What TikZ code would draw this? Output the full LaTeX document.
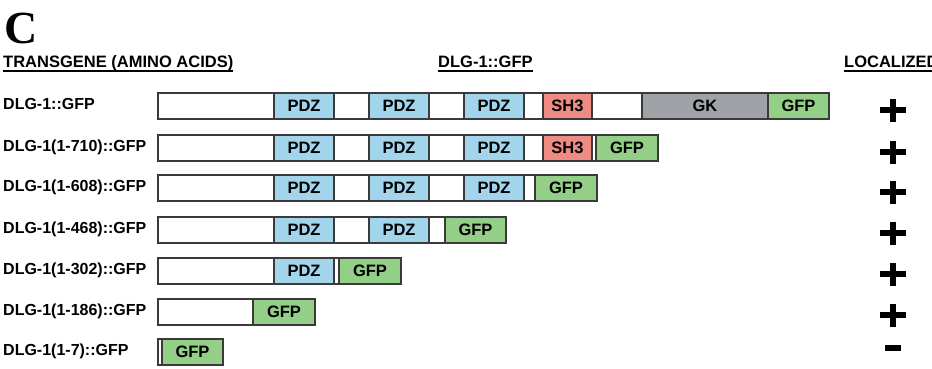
\documentclass[tikz,border=0pt]{standalone}
\usepackage{fontspec}
\setmainfont{Liberation Sans}
\newfontfamily\panelfont{Liberation Serif}
\definecolor{pdzblue}{HTML}{A2D5EC}
\definecolor{shpink}{HTML}{EE8B82}
\definecolor{gkgray}{HTML}{9FA2A7}
\definecolor{gfpgreen}{HTML}{93CF86}
\definecolor{edge}{HTML}{3A3A3A}
\tikzset{
  seg/.style={draw=edge, line width=1.4pt, minimum height=26pt, inner sep=0pt,
    font=\fontsize{16.5}{19}\bfseries\selectfont, text=black},
  blank/.style={fill=white},
  pdz/.style={fill=pdzblue},
  sh/.style={fill=shpink},
  gk/.style={fill=gkgray},
  gfp/.style={fill=gfpgreen},
  rowlabel/.style={anchor=base west, inner sep=0pt, font=\fontsize{16}{19}\bfseries\selectfont},
  header/.style={anchor=base west, inner sep=0pt, font=\fontsize{16.5}{19}\bfseries\selectfont},
  uline/.style={line width=2pt, black},
  scoremark/.style={line width=6.5pt, black},
}
% \seg{name}{style}{left}{right}{row centre}{text}
\newcommand\seg[6]{\node[seg,#2,minimum width={#4-#3}] (#1) at ({(#3+#4)/2},#5) {#6};}
% plus sign centred at (x,y)
\newcommand\plusmark[2]{\draw[scoremark] (#1-13,#2) -- (#1+13,#2); \draw[scoremark] (#1,#2-11.5) -- (#1,#2+11.5);}
\begin{document}
\begin{tikzpicture}[x=1pt,y=-1pt]
\useasboundingbox (0,0) rectangle (932,368);

% panel letter and column headers
\node[anchor=base west, inner sep=0pt, font=\fontsize{46}{50}\bfseries\panelfont] (panel) at (4,43) {C};
\node[header] (h1) at (3,67) {TRANSGENE (AMINO ACIDS)};
\node[header] (h2) at (438,67) {DLG-1::GFP};
\node[header] (h3) at (844,67) {LOCALIZED};
\foreach \h in {h1,h2,h3}
  \draw[uline] ([yshift=-4pt]\h.base west) -- ([yshift=-4pt]\h.base east);

% row labels
\node[rowlabel] (l1) at (3,109) {DLG-1::GFP};
\node[rowlabel] (l2) at (3,151) {DLG-1(1-710)::GFP};
\node[rowlabel] (l3) at (3,191) {DLG-1(1-608)::GFP};
\node[rowlabel] (l4) at (3,233) {DLG-1(1-468)::GFP};
\node[rowlabel] (l5) at (3,274) {DLG-1(1-302)::GFP};
\node[rowlabel] (l6) at (3,315) {DLG-1(1-186)::GFP};
\node[rowlabel] (l7) at (3,355) {DLG-1(1-7)::GFP};

% full length
\seg{r1a}{blank}{158}{274}{106}{}
\seg{r1b}{pdz}{274}{334}{106}{PDZ}
\seg{r1c}{blank}{334}{369}{106}{}
\seg{r1d}{pdz}{369}{429}{106}{PDZ}
\seg{r1e}{blank}{429}{464}{106}{}
\seg{r1f}{pdz}{464}{524}{106}{PDZ}
\seg{r1g}{blank}{524}{543}{106}{}
\seg{r1h}{sh}{543}{592}{106}{SH3}
\seg{r1i}{blank}{592}{642}{106}{}
\seg{r1j}{gk}{642}{768}{106}{GK}
\seg{r1k}{gfp}{768}{829}{106}{GFP}

% 1-710
\seg{r2a}{blank}{158}{274}{148}{}
\seg{r2b}{pdz}{274}{334}{148}{PDZ}
\seg{r2c}{blank}{334}{369}{148}{}
\seg{r2d}{pdz}{369}{429}{148}{PDZ}
\seg{r2e}{blank}{429}{464}{148}{}
\seg{r2f}{pdz}{464}{524}{148}{PDZ}
\seg{r2g}{blank}{524}{543}{148}{}
\seg{r2h}{sh}{543}{592}{148}{SH3}
\seg{r2i}{blank}{592}{596}{148}{}
\seg{r2j}{gfp}{596}{658}{148}{GFP}

% 1-608
\seg{r3a}{blank}{158}{274}{188}{}
\seg{r3b}{pdz}{274}{334}{188}{PDZ}
\seg{r3c}{blank}{334}{369}{188}{}
\seg{r3d}{pdz}{369}{429}{188}{PDZ}
\seg{r3e}{blank}{429}{464}{188}{}
\seg{r3f}{pdz}{464}{524}{188}{PDZ}
\seg{r3g}{blank}{524}{535}{188}{}
\seg{r3h}{gfp}{535}{597}{188}{GFP}

% 1-468
\seg{r4a}{blank}{158}{274}{230}{}
\seg{r4b}{pdz}{274}{334}{230}{PDZ}
\seg{r4c}{blank}{334}{369}{230}{}
\seg{r4d}{pdz}{369}{429}{230}{PDZ}
\seg{r4e}{blank}{429}{445}{230}{}
\seg{r4f}{gfp}{445}{506}{230}{GFP}

% 1-302
\seg{r5a}{blank}{158}{274}{271}{}
\seg{r5b}{pdz}{274}{334}{271}{PDZ}
\seg{r5c}{blank}{334}{339}{271}{}
\seg{r5d}{gfp}{339}{401}{271}{GFP}

% 1-186
\seg{r6a}{blank}{158}{253}{312}{}
\seg{r6b}{gfp}{253}{315}{312}{GFP}

% 1-7
\seg{r7a}{blank}{158}{162}{352}{}
\seg{r7b}{gfp}{162}{223}{352}{GFP}

% localization scores
\plusmark{893}{110}
\plusmark{893}{152}
\plusmark{893}{192}
\plusmark{893}{233}
\plusmark{893}{274}
\plusmark{893}{315}
\draw[scoremark] (885,348) -- (901,348);
\end{tikzpicture}
\end{document}
